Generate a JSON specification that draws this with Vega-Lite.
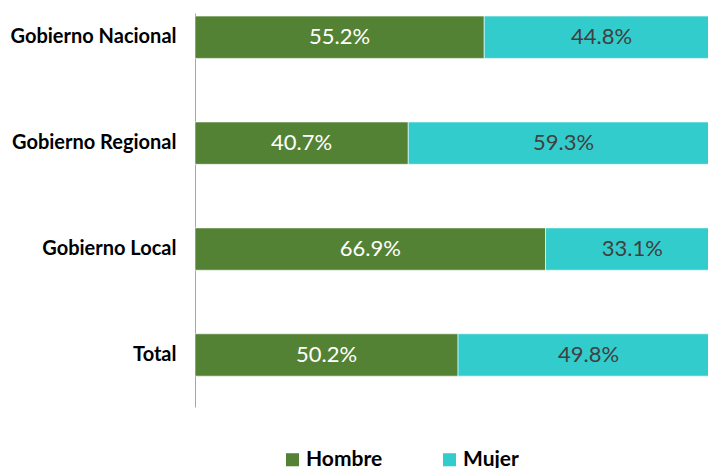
{
  "$schema": "https://vega.github.io/schema/vega-lite/v6.json",
  "autosize": {"type": "none"},
  "width": 524,
  "height": 394,
  "padding": {"left": 195, "top": 13, "right": 0, "bottom": 61},
  "background": "white",
  "config": {"view": {"stroke": null}, "font": "Lato"},
  "data": {"values": [
    {"cat": "Gobierno Nacional", "sexo": "Hombre", "pct": 55.2},
    {"cat": "Gobierno Nacional", "sexo": "Mujer", "pct": 44.8},
    {"cat": "Gobierno Regional", "sexo": "Hombre", "pct": 40.7},
    {"cat": "Gobierno Regional", "sexo": "Mujer", "pct": 59.3},
    {"cat": "Gobierno Local", "sexo": "Hombre", "pct": 66.9},
    {"cat": "Gobierno Local", "sexo": "Mujer", "pct": 33.1},
    {"cat": "Total", "sexo": "Hombre", "pct": 50.2},
    {"cat": "Total", "sexo": "Mujer", "pct": 49.8}
  ]},
  "transform": [
    {"stack": "pct", "groupby": ["cat"], "sort": [{"field": "sexo", "order": "ascending"}], "as": ["v0", "v1"]},
    {"calculate": "(datum.v0 + datum.v1) / 2", "as": "mid"},
    {"calculate": "format(datum.pct, '.1f') + '%'", "as": "lab"}
  ],
  "encoding": {
    "y": {
      "field": "cat", "type": "nominal",
      "sort": ["Gobierno Nacional", "Gobierno Regional", "Gobierno Local", "Total"],
      "scale": {"paddingInner": 0.6, "paddingOuter": 0.16, "align": 0.09},
      "axis": {"title": null, "ticks": false, "domainColor": "#A6A6A6", "domainWidth": 1,
               "labelFontSize": 20, "labelFontWeight": "bold", "labelColor": "#000000",
               "labelPadding": 19, "labelFont": "Lato", "labelLimit": 300}
    }
  },
  "layer": [
    {
      "mark": {"type": "bar", "stroke": "white", "strokeWidth": 0.6},
      "encoding": {
        "x": {"field": "v0", "type": "quantitative", "scale": {"domain": [0, 100]}, "axis": null},
        "x2": {"field": "v1"},
        "color": {
          "field": "sexo", "type": "nominal",
          "scale": {"domain": ["Hombre", "Mujer"], "range": ["#548235", "#33CCCC"]},
          "legend": {
            "title": null, "orient": "none", "direction": "horizontal",
            "legendX": 87, "legendY": 436,
            "symbolType": "square", "symbolSize": 170, "symbolStrokeWidth": 0,
            "labelFontSize": 21, "labelFontWeight": "bold", "labelColor": "#000000",
            "labelFont": "Lato", "columnPadding": 56, "labelOffset": 3
          }
        }
      }
    },
    {
      "mark": {"type": "text", "fontSize": 22, "font": "Lato", "baseline": "middle", "align": "center"},
      "encoding": {
        "x": {"field": "mid", "type": "quantitative"},
        "text": {"field": "lab"},
        "color": {
          "field": "sexo", "type": "nominal",
          "scale": {"domain": ["Hombre", "Mujer"], "range": ["#FFFFFF", "#404040"]},
          "legend": null
        }
      }
    }
  ],
  "resolve": {"scale": {"color": "independent"}}
}
